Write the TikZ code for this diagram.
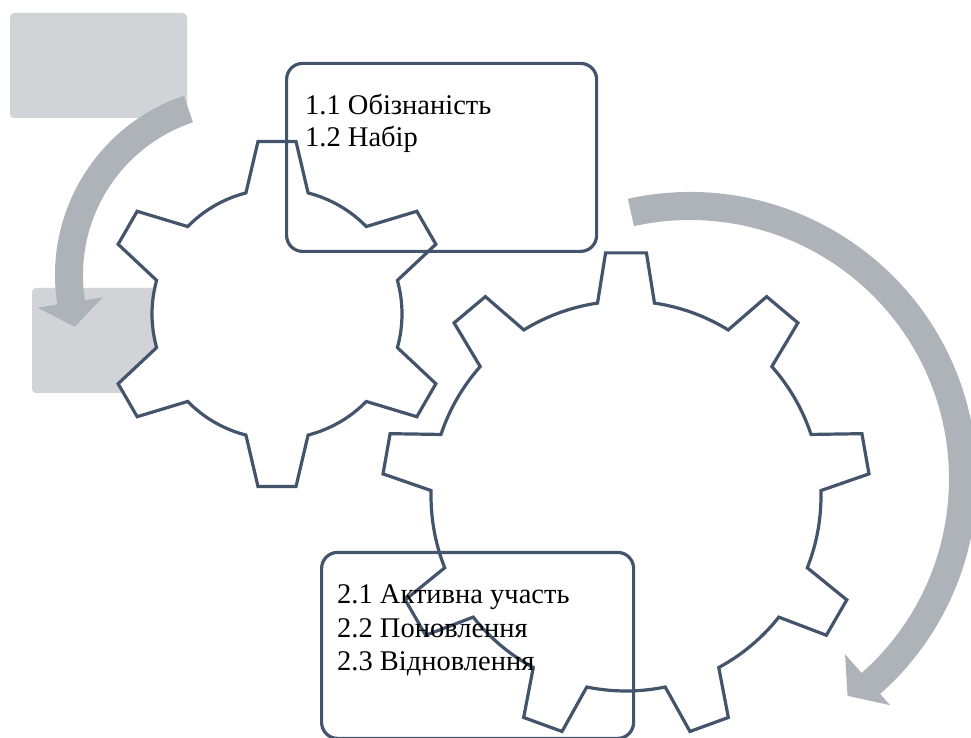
\documentclass[tikz,border=0pt]{standalone}
\usepackage{fontspec}
\setmainfont{Liberation Serif}
\definecolor{gearline}{HTML}{44546A}
\definecolor{arrowgray}{HTML}{AEB2B9}
\definecolor{boxgray}{HTML}{D1D3D7}
\begin{document}
\begin{tikzpicture}[x=1pt,y=1pt,
  gearshape/.style={draw=gearline, line width=3.2pt, fill=white, line join=miter},
  textbox/.style={draw=gearline, line width=3.2pt, rounded corners=16pt, inner sep=0pt},
  greybox/.style={fill=boxgray, rounded corners=4pt},
  bentarrow/.style={fill=arrowgray},
  itemtext/.style={anchor=base west, inner sep=0pt, font=\fontsize{28.5}{32}\selectfont}]
\useasboundingbox (0,0) rectangle (971,737);
% light grey blocks
\fill[greybox] (10,619) rectangle (187,724);
\fill[greybox] (32,344) rectangle (209,449);
% left curved arrow
\begin{scope}[shift={(244,462)}]
\fill[bentarrow] (108.5:189pt) arc[start angle=108.5, end angle=189, radius=189pt]
  -- (189:209pt) -- (197:177pt) -- (189:143pt) -- (189:161pt)
  arc[start angle=189, end angle=108.5, radius=161pt] -- cycle;
\end{scope}
% right curved arrow
\begin{scope}[shift={(690,258)}]
\fill[bentarrow] (102.5:287pt) arc[start angle=102.5, end angle=-48.5, radius=287pt]
  -- (-48.5:302pt) -- (-54:268pt) -- (-48.5:234pt) -- (-48.5:259pt)
  arc[start angle=-48.5, end angle=102.5, radius=259pt] -- cycle;
\end{scope}
% small gear
\begin{scope}[shift={(277,423)}]
\draw[gearshape] (15.6:125pt)
  \foreach \a in {30,90,...,330} {
    -- ({\a-6.3}:173.5pt) -- ({\a+6.3}:173.5pt) -- ({\a+14.4}:125pt)
    arc[start angle=\a+14.4, end angle=\a+45.6, radius=125pt]
  } -- cycle;
\end{scope}
% large gear
\begin{scope}[shift={(626,241)}]
\draw[gearshape] (81.6:195pt)
  \foreach \a in {90,130,...,410} {
    -- ({\a-4.8}:244pt) -- ({\a+4.8}:244pt) -- ({\a+8.4}:195pt)
    arc[start angle=\a+8.4, end angle=\a+31.6, radius=195pt]
  } -- cycle;
\end{scope}
% text boxes
\node[textbox, minimum width=310pt, minimum height=188pt, anchor=south west] (box1) at (285,484) {};
\node[textbox, minimum width=312pt, minimum height=186pt, anchor=south west] (box2) at (320,-3) {};
\node[itemtext] (t11) at (305,622) {1.1 Обізнаність};
\node[itemtext] (t12) at (305,590) {1.2 Набір};
\node[itemtext] (t21) at (337,134) {2.1 Активна участь};
\node[itemtext] (t22) at (337,100) {2.2 Поновлення};
\node[itemtext] (t23) at (337,67) {2.3 Відновлення};
\end{tikzpicture}
\end{document}
